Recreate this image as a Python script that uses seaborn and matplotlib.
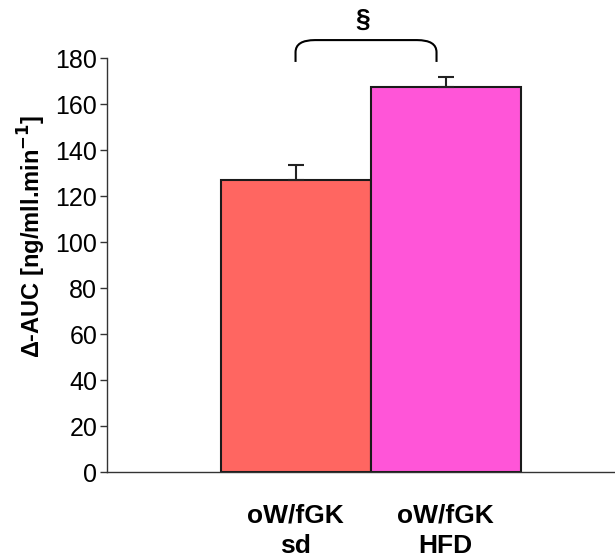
import matplotlib
matplotlib.use('Agg')
import matplotlib.pyplot as plt
from matplotlib.path import Path
from matplotlib.patches import PathPatch
import seaborn as sns
import pandas as pd

groups = ['oW/fGK\nsd', 'oW/fGK\nHFD']
auc_values = [127, 167.5]
auc_errors = [6.5, 4.3]
bar_colors = ['#FF6661', '#FF55D8']

sns.set_style('white')
plt.rcParams['font.family'] = ['Liberation Sans', 'DejaVu Sans']
plt.rcParams['text.color'] = 'black'
plt.rcParams['axes.labelcolor'] = 'black'
plt.rcParams['ytick.color'] = 'black'
plt.rcParams['xtick.color'] = 'black'

df = pd.DataFrame({'group': groups, 'auc': auc_values})

fig = plt.figure(figsize=(6.15, 5.59), dpi=100)
ax = fig.add_axes([0.174, 0.1556, 0.826, 0.7406])

sns.barplot(data=df, x='group', y='auc', hue='group', palette=bar_colors,
            width=1.0, errorbar=None, legend=False, saturation=1,
            edgecolor='#1a1a1a', linewidth=1.5, ax=ax)

# upward-only error bars
for i, (v, e) in enumerate(zip(auc_values, auc_errors)):
    ax.errorbar(i, v, yerr=[[0], [e]], fmt='none', ecolor='#222222',
                elinewidth=1.5, capsize=6, capthick=1.5)

ax.set_xlim(-1.257, 2.13)
ax.set_ylim(0, 180)
ax.set_yticks(range(0, 181, 20))
ax.tick_params(axis='y', which='both', left=True, length=5, width=1,
               color='#333333', labelcolor='black', labelsize=18, pad=2)
ax.tick_params(axis='x', bottom=False, labelcolor='black', labelsize=19,
               pad=19)
for lbl in ax.get_xticklabels():
    lbl.set_fontweight('bold')
    lbl.set_linespacing(1.35)

ax.set_xlabel('')
ax.set_ylabel('Δ-AUC [ng/mll.min$^{\\mathbf{-1}}$]', fontsize=17,
              fontweight='bold', va='center', color='black')
ax.yaxis.set_label_coords(-0.147, 0.57)

for side in ['top', 'right']:
    ax.spines[side].set_visible(False)
for side in ['left', 'bottom']:
    ax.spines[side].set_color('#333333')
    ax.spines[side].set_linewidth(1)

# significance bracket
x0, x1 = 0.0, 0.94
yb, yt = 178.3, 187.8
verts = [(x0, yb), (x0, 182.5), (x0, yt), (x0 + 0.13, yt),
         (x1 - 0.13, yt), (x1, yt), (x1, 182.5), (x1, yb)]
codes = [Path.MOVETO, Path.LINETO, Path.CURVE3, Path.CURVE3,
         Path.LINETO, Path.CURVE3, Path.CURVE3, Path.LINETO]
ax.add_patch(PathPatch(Path(verts, codes), fill=False, lw=1.5,
                       edgecolor='black', clip_on=False))
ax.text(0.45, 196.5, '§', ha='center', va='center', fontsize=19,
        fontweight='bold', color='black', clip_on=False)

fig.savefig('out.png', dpi=100)
